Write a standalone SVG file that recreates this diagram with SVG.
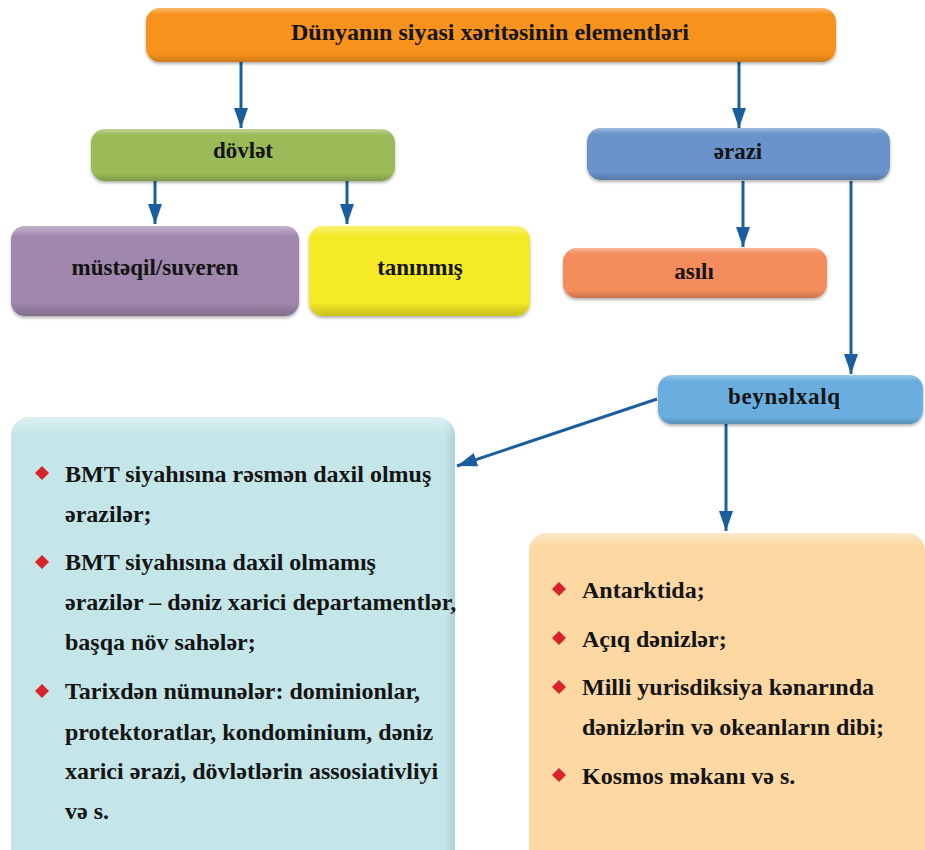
<svg xmlns="http://www.w3.org/2000/svg" width="925" height="850" viewBox="0 0 925 850">
  <defs>
    <linearGradient id="shade" x1="0" y1="0" x2="0" y2="1">
      <stop offset="0" stop-color="#ffffff" stop-opacity="0.35"/>
      <stop offset="0.12" stop-color="#ffffff" stop-opacity="0"/>
      <stop offset="0.85" stop-color="#000000" stop-opacity="0"/>
      <stop offset="1" stop-color="#000000" stop-opacity="0.18"/>
    </linearGradient>
    <linearGradient id="shadeBig" x1="0" y1="0" x2="0" y2="1">
      <stop offset="0" stop-color="#ffffff" stop-opacity="0.4"/>
      <stop offset="0.04" stop-color="#ffffff" stop-opacity="0"/>
      <stop offset="1" stop-color="#000000" stop-opacity="0"/>
    </linearGradient>
    <linearGradient id="sideShade" x1="0" y1="0" x2="1" y2="0">
      <stop offset="0.98" stop-color="#000000" stop-opacity="0"/>
      <stop offset="1" stop-color="#2060a0" stop-opacity="0.15"/>
    </linearGradient>
    <filter id="shadow" x="-5%" y="-10%" width="110%" height="130%">
      <feDropShadow dx="0" dy="2" stdDeviation="1.5" flood-color="#000" flood-opacity="0.3"/>
    </filter>
    <marker id="arrow" viewBox="0 0 20 14" refX="20" refY="7" markerWidth="20" markerHeight="14" markerUnits="userSpaceOnUse" orient="auto">
      <path d="M0,0 L20,7 L0,14 Z" fill="#1B5E9E"/>
    </marker>
  </defs>
  <style>
    .lbl { font-family: "Liberation Serif", "Times New Roman", serif; font-weight: bold; fill: #141414; text-anchor: middle; }
    .node { font-size: 23px; }
    .title { font-size: 24px; }
    .body { font-family: "Liberation Serif", "Times New Roman", serif; font-weight: bold; font-size: 24px; fill: #141414; }
    .conn { stroke: #1B5E9E; stroke-width: 3; fill: none; marker-end: url(#arrow); }
    .bullet { fill: #D7242B; }
  </style>

  <rect width="925" height="850" fill="#ffffff"/>

  <g id="connectors">
    <line class="conn" x1="241" y1="62" x2="241" y2="128"/>
    <line class="conn" x1="739" y1="62" x2="739" y2="128"/>
    <line class="conn" x1="155" y1="181" x2="155" y2="224"/>
    <line class="conn" x1="347" y1="181" x2="347" y2="224"/>
    <line class="conn" x1="743" y1="181" x2="743" y2="247"/>
    <line class="conn" x1="851" y1="181" x2="851" y2="374"/>
    <line class="conn" x1="657" y1="399" x2="457" y2="466"/>
    <line class="conn" x1="726" y1="424" x2="726" y2="531"/>
  </g>

  <g id="title">
    <rect x="146" y="8" width="690" height="54" rx="14" fill="#F7931E" filter="url(#shadow)"/>
    <rect x="146" y="8" width="690" height="54" rx="14" fill="url(#shade)"/>
    <text class="lbl title" x="490" y="40">Dünyanın siyasi xəritəsinin elementləri</text>
  </g>

  <g id="dovlet">
    <rect x="91" y="129" width="304" height="52" rx="14" fill="#9BBB59" filter="url(#shadow)"/>
    <rect x="91" y="129" width="304" height="52" rx="14" fill="url(#shade)"/>
    <text class="lbl node" x="243" y="158">dövlət</text>
  </g>

  <g id="erazi">
    <rect x="587" y="128" width="303" height="52" rx="14" fill="#6A93CB" filter="url(#shadow)"/>
    <rect x="587" y="128" width="303" height="52" rx="14" fill="url(#shade)"/>
    <text class="lbl node" x="738" y="159">ərazi</text>
  </g>

  <g id="musteqil">
    <rect x="11" y="226" width="288" height="90" rx="14" fill="#A087AD" filter="url(#shadow)"/>
    <rect x="11" y="226" width="288" height="90" rx="14" fill="url(#shade)"/>
    <text class="lbl node" x="155" y="275">müstəqil/suveren</text>
  </g>

  <g id="taninmis">
    <rect x="309" y="226" width="221" height="90" rx="14" fill="#F4EA25" filter="url(#shadow)"/>
    <rect x="309" y="226" width="221" height="90" rx="14" fill="url(#shade)"/>
    <text class="lbl node" x="420" y="275">tanınmış</text>
  </g>

  <g id="asili">
    <rect x="563" y="248" width="264" height="50" rx="14" fill="#F48C5C" filter="url(#shadow)"/>
    <rect x="563" y="248" width="264" height="50" rx="14" fill="url(#shade)"/>
    <text class="lbl node" x="694" y="279">asılı</text>
  </g>

  <g id="beynelxalq">
    <rect x="658" y="375" width="265" height="49" rx="14" fill="#6AAEE0" filter="url(#shadow)"/>
    <rect x="658" y="375" width="265" height="49" rx="14" fill="url(#shade)"/>
    <text class="lbl node" x="784" y="404" textLength="112" lengthAdjust="spacing">beynəlxalq</text>
  </g>

  <g id="left-list">
    <rect x="11" y="417" width="444" height="450" rx="18" fill="#C5E6E9"/>
    <rect x="11" y="417" width="444" height="450" rx="18" fill="url(#sideShade)"/>
    <rect x="11" y="417" width="444" height="450" rx="18" fill="url(#shadeBig)"/>
    <path class="bullet" d="M42,466 L49,473 L42,480 L35,473 Z"/>
    <path class="bullet" d="M42,555 L49,562 L42,569 L35,562 Z"/>
    <path class="bullet" d="M42,684 L49,691 L42,698 L35,691 Z"/>
    <text class="body" x="65" y="482">BMT siyahısına rəsmən daxil olmuş</text>
    <text class="body" x="65" y="522">ərazilər;</text>
    <text class="body" x="65" y="570">BMT siyahısına daxil olmamış</text>
    <text class="body" x="65" y="610">ərazilər – dəniz xarici departamentlər,</text>
    <text class="body" x="65" y="650">başqa növ sahələr;</text>
    <text class="body" x="65" y="699">Tarixdən nümunələr: dominionlar,</text>
    <text class="body" x="65" y="740">protektoratlar, kondominium, dəniz</text>
    <text class="body" x="65" y="779">xarici ərazi, dövlətlərin assosiativliyi</text>
    <text class="body" x="65" y="819">və s.</text>
  </g>

  <g id="right-list">
    <rect x="529" y="533" width="396" height="340" rx="18" fill="#FDD8A2"/>
    <rect x="529" y="533" width="396" height="340" rx="18" fill="url(#shadeBig)"/>
    <path class="bullet" d="M559,582 L566,589 L559,596 L552,589 Z"/>
    <path class="bullet" d="M559,631 L566,638 L559,645 L552,638 Z"/>
    <path class="bullet" d="M559,680 L566,687 L559,694 L552,687 Z"/>
    <path class="bullet" d="M559,768 L566,775 L559,782 L552,775 Z"/>
    <text class="body" x="582" y="598">Antarktida;</text>
    <text class="body" x="582" y="647">Açıq dənizlər;</text>
    <text class="body" x="582" y="695">Milli yurisdiksiya kənarında</text>
    <text class="body" x="582" y="735">dənizlərin və okeanların dibi;</text>
    <text class="body" x="582" y="784">Kosmos məkanı və s.</text>
  </g>
</svg>
